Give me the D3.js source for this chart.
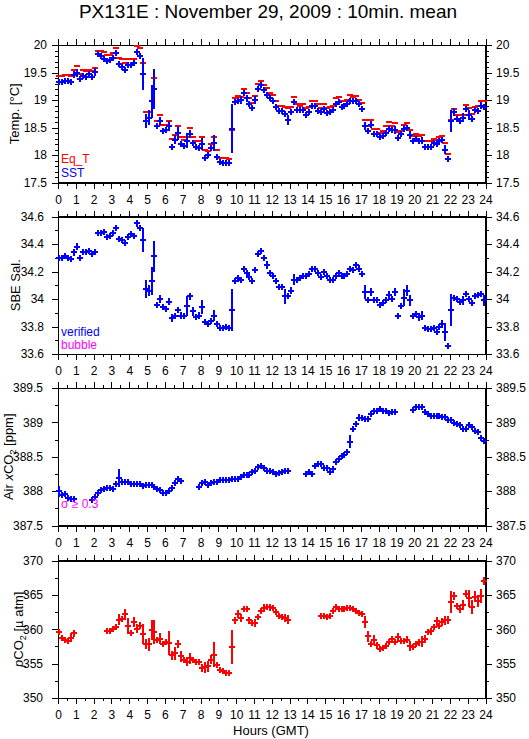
<!DOCTYPE html>
<html>
<head>
<meta charset="utf-8">
<script src="https://cdn.jsdelivr.net/npm/d3@7"></script>
<style>
body { margin: 0; background: #fff; }
svg text { font-family: "Liberation Sans", Arial, Helvetica, sans-serif; }
</style>
</head>
<body>
<svg width="529" height="739"></svg>
<script>
// 10 minute means, bin i covers [i*10, (i+1)*10) minutes after 0 GMT
var binMinutes = 10;

var eqT = [19.44,19.44,19.46,19.46,19.44,
  19.55,19.62,19.47,19.55,19.52,19.55,19.52,19.58,
  19.89,19.89,19.87,19.82,19.82,19.86,19.95,19.77,19.75,19.67,19.75,19.75,19.75,19.98,19.94,19.68,
  18.78,18.78,18.98,19.40,18.62,18.72,18.55,18.55,18.62,18.30,18.37,18.52,18.32,18.27,18.33,18.50,18.33,18.25,18.25,18.32,18.10,18.08,18.20,18.33,18.10,17.95,17.95,17.94,17.93,18.45,
  19.04,19.08,19.06,19.20,19.12,19.03,18.95,19.07,19.30,19.35,19.28,19.22,19.12,
  19.09,18.98,18.90,18.90,18.88,18.85,18.87,19.05,18.92,18.90,18.92,18.85,18.88,18.98,18.98,18.92,18.85,18.92,18.85,18.88,18.90,19.03,19.05,18.98,18.98,19.00,19.09,19.06,19.07,19.00,18.94,
  18.63,18.52,18.63,18.47,18.47,18.40,18.44,18.52,18.60,18.53,18.58,18.42,18.43,18.55,18.58,18.45,18.35,18.38,18.35,18.37,18.25,18.25,18.25,18.30,18.27,18.32,18.35,18.22,18.02,
  18.63,18.84,18.73,18.72,18.73,18.91,18.85,18.74,18.88,18.90,18.98,18.98];

var sst = [19.33,19.33,19.34,19.35,19.32,
  19.46,19.49,19.38,19.44,19.42,19.47,19.41,19.51,
  19.84,19.80,19.75,19.71,19.72,19.76,19.86,19.66,19.60,19.55,19.63,19.64,19.67,19.88,19.80,19.47,
  18.62,18.68,18.98,19.20,18.52,18.62,18.44,18.45,18.52,18.15,18.28,18.40,18.20,18.17,18.26,18.38,18.22,18.14,18.13,18.20,17.95,18.00,18.12,18.22,17.97,17.87,17.85,17.85,17.85,18.48,
  18.97,18.99,19.00,19.12,19.03,18.93,18.86,19.00,19.20,19.27,19.18,19.10,19.03,
  18.98,18.88,18.80,18.80,18.75,18.63,18.78,18.97,18.82,18.81,18.81,18.73,18.78,18.90,18.89,18.80,18.78,18.83,18.77,18.79,18.81,18.92,18.96,18.88,18.90,18.93,18.99,18.98,18.98,18.92,18.84,
  18.53,18.43,18.55,18.38,18.38,18.32,18.35,18.40,18.47,18.45,18.46,18.31,18.39,18.48,18.50,18.36,18.26,18.30,18.26,18.26,18.15,18.15,18.15,18.22,18.20,18.25,18.28,18.10,17.93,
  18.62,18.78,18.66,18.62,18.68,18.83,18.73,18.65,18.82,18.80,18.90,18.87];

// [bin, standard deviation] where the error bar is visible
var sstSd = [[5,0.06],[6,0.07],[12,0.07],[25,0.06],[28,0.29],[29,0.12],[30,0.13],[31,0.3],[32,0.37],
  [34,0.08],[37,0.09],[39,0.08],[40,0.12],[43,0.14],[44,0.07],[48,0.11],[52,0.15],[58,0.45],
  [60,0.05],[61,0.08],[63,0.06],[66,0.07],[76,0.05],[77,0.09],[80,0.06],[87,0.06],[102,0.06],
  [103,0.07],[105,0.06],[110,0.05],[111,0.06],[113,0.07],[116,0.07],[118,0.07],[122,0.06],
  [130,0.08],[131,0.04],[132,0.2],[133,0.07],[136,0.08],[138,0.09],[142,0.07]];

var sal = [34.30,34.30,34.31,34.30,34.29,
  34.34,34.38,34.30,34.34,34.34,34.35,34.33,34.34,
  34.48,34.48,34.49,34.45,34.46,34.48,34.52,34.44,34.43,34.41,34.45,34.47,34.46,34.55,34.52,34.43,
  34.07,34.06,34.13,34.31,33.96,34.00,33.94,33.93,33.98,33.86,33.88,33.92,33.88,33.88,33.95,34.02,33.91,33.87,33.88,33.94,33.83,33.82,33.84,33.88,33.82,33.79,33.79,33.80,33.79,33.92,
  34.13,34.15,34.14,34.22,34.19,34.16,34.13,34.21,34.33,34.35,34.30,34.25,34.19,
  34.17,34.13,34.09,34.09,34.02,34.02,34.06,34.14,34.14,34.15,34.17,34.17,34.18,34.22,34.22,34.19,34.16,34.20,34.17,34.14,34.14,34.17,34.19,34.17,34.17,34.18,34.22,34.21,34.25,34.22,34.18,
  34.05,33.99,34.05,33.99,33.99,33.96,33.97,33.99,34.03,34.00,34.05,33.88,33.95,34.01,34.06,33.99,33.88,33.89,33.87,33.88,33.79,33.78,33.78,33.79,33.76,33.80,33.82,33.76,33.66,
  33.92,34.01,34.00,33.98,33.99,34.04,34.00,33.97,34.02,34.03,34.04,33.99];

var salSd = [[5,0.025],[6,0.025],[12,0.02],[13,0.025],[15,0.02],[20,0.02],[26,0.025],[28,0.085],
  [29,0.065],[30,0.04],[31,0.1],[32,0.11],[34,0.03],[37,0.025],[38,0.03],[41,0.025],[43,0.07],
  [44,0.025],[45,0.03],[47,0.025],[48,0.05],[52,0.04],[58,0.15],[60,0.025],[61,0.02],[66,0.02],
  [68,0.02],[70,0.03],[71,0.02],[76,0.055],[78,0.025],[79,0.04],[87,0.02],[98,0.02],[101,0.025],
  [103,0.05],[105,0.03],[111,0.03],[113,0.03],[116,0.06],[117,0.04],[118,0.04],[121,0.03],
  [122,0.03],[129,0.03],[130,0.065],[132,0.115],[135,0.02],[136,0.03],[138,0.02],[140,0.02],[143,0.04]];

var airCo2 = [388.00,387.95,387.96,387.90,387.89,387.89,
  null,null,null,null,null,
  387.87,387.92,387.98,388.02,388.03,388.04,388.04,388.03,388.10,388.19,388.13,388.13,388.13,388.11,388.10,388.11,388.10,388.08,388.09,388.09,388.09,388.06,388.03,388.01,387.98,387.98,388.00,388.05,388.12,388.17,388.15,
  null,null,null,null,null,
  388.06,388.12,388.13,388.09,388.12,388.13,388.14,388.16,388.16,388.16,388.16,388.17,388.17,388.17,388.20,388.23,388.24,388.24,388.28,388.30,388.35,388.36,388.34,388.29,388.29,388.28,388.25,388.27,388.28,388.30,388.30,
  null,null,null,null,null,
  388.25,388.28,388.25,388.37,388.39,388.39,388.34,388.34,388.28,388.32,388.42,388.47,388.51,388.52,388.57,388.72,388.91,388.97,389.07,389.06,389.05,389.05,389.12,389.16,389.17,389.19,389.17,389.16,389.14,389.15,389.15,
  null,null,null,null,null,
  389.18,389.22,389.22,389.22,389.15,389.12,389.10,389.09,389.10,389.10,389.08,389.08,389.03,389.03,388.99,388.98,388.96,388.90,388.90,388.96,388.93,388.87,388.86,388.78,388.73];

var airSd = [[0,0.08],[1,0.04],[2,0.03],[13,0.03],[18,0.02],[20,0.13],[29,0.03],[30,0.03],[38,0.03],
  [40,0.03],[47,0.05],[50,0.03],[65,0.02],[68,0.02],[71,0.03],[73,0.03],[84,0.03],[90,0.03],
  [91,0.03],[92,0.05],[98,0.09],[100,0.04],[101,0.05],[105,0.03],[119,0.03],[128,0.03],
  [133,0.04],[134,0.04],[138,0.04],[142,0.04],[143,0.03]];

var pco2 = [359.6,358.7,358.5,358.3,358.8,359.4,
  null,null,null,null,null,null,null,null,null,null,
  359.7,359.8,360.1,360.3,361.4,361.5,362.2,360.5,359.4,361.1,360.1,360.5,359.3,357.9,357.8,359.9,359.6,358.4,358.6,357.9,358.2,358.0,356.2,356.5,357.9,356.1,355.6,355.3,355.8,355.6,355.3,355.2,354.4,354.5,354.6,355.6,356.3,354.8,354.1,354.0,353.6,353.6,357.4,
  361.3,362.2,361.6,362.9,362.9,361.3,360.9,360.9,361.8,362.6,363.1,363.2,363.2,363.1,362.5,362.0,361.8,361.6,361.4,
  null,null,null,null,null,null,null,null,null,null,
  362.0,361.9,361.8,362.0,362.6,363.2,363.0,363.0,363.0,363.1,363.1,363.0,362.7,362.4,362.2,
  361.1,359.0,357.9,358.5,357.7,357.2,357.3,357.6,358.1,358.6,358.1,358.9,358.3,358.3,358.5,357.6,357.4,357.9,358.1,358.2,358.6,359.6,359.7,360.3,361.2,360.5,361.1,361.3,361.3,
  364.0,364.8,363.4,363.0,363.5,365.2,364.5,363.2,364.7,364.1,364.8,367.0];

var pco2Sd = [[0,0.4],[4,0.6],[5,0.5],[20,0.8],[21,0.5],[22,0.8],[23,1.2],[25,0.7],[26,0.6],[27,0.5],
  [28,1.5],[29,0.7],[30,1.0],[31,1.5],[32,1.7],[33,0.4],[34,0.8],[36,0.4],[37,1.7],[38,0.6],
  [39,0.9],[40,0.6],[41,0.8],[43,0.6],[44,0.8],[48,0.6],[49,0.8],[50,0.8],[51,0.6],[52,1.8],
  [58,2.5],[59,0.5],[60,0.6],[61,0.6],[62,0.3],[63,0.4],[64,0.5],[66,0.6],[67,0.4],[68,0.4],
  [69,0.6],[70,0.3],[71,0.5],[72,0.4],[76,0.6],[77,0.7],[90,0.4],[93,0.4],[103,0.9],[104,0.8],
  [106,0.6],[107,0.5],[111,0.4],[112,0.4],[114,0.6],[117,0.5],[118,0.7],[121,0.5],[122,0.8],
  [123,0.6],[125,0.5],[127,0.6],[128,0.4],[129,0.6],[130,0.7],[131,0.6],[132,1.6],[133,0.6],
  [135,0.6],[136,0.7],[137,0.5],[138,1.2],[139,1.0],[140,0.8],[141,0.9],[142,1.0],[143,0.6]];

var hourTicks = d3.range(0, 25);
var halfHourTicks = d3.range(0, 24.01, 0.5);

var svg = d3.select("svg");
var x = d3.scaleLinear().domain([0, 24]).range([58, 485.5]);

var panels = [
  {top: 45, domain: [17.5, 20], major: 0.5, minor: 0.1, titleX: 18.5, pad: 5},
  {top: 216.5, domain: [33.6, 34.6], major: 0.2, minor: 0.1, titleX: 19.5, pad: 8},
  {top: 388, domain: [387.5, 389.5], major: 0.5, minor: 0.25, titleX: 12.5, pad: 9},
  {top: 560.5, domain: [350, 370], major: 5, minor: 2.5, titleX: 22.5, pad: 9}
];
var ph = 137.5;

function steps(lo, hi, st) {
  var n = Math.round((hi - lo) / st);
  return d3.range(n + 1).map(function (k) { return +(lo + k * st).toFixed(4); });
}
var fmt = function (d) { return String(+d.toFixed(2)); };

function styleAxis(g, size) {
  g.attr("shape-rendering", "crispEdges");
  g.select(".domain").attr("stroke", "#000");
  g.selectAll("line").attr("stroke", "#000");
  g.selectAll("text").attr("font-size", size).attr("fill", "#000")
    .attr("font-family", '"Liberation Sans", Arial, sans-serif');
}

function drawPanel(p) {
  var y = d3.scaleLinear().domain(p.domain).range([p.top + ph, p.top]);
  var g = svg.append("g");
  var bottom = p.top + ph;

  g.append("rect")
    .attr("x", x(0)).attr("y", p.top)
    .attr("width", x(24) - x(0)).attr("height", ph)
    .attr("fill", "none").attr("stroke", "#000")
    .attr("shape-rendering", "crispEdges");

  // hour axes, top and bottom
  g.append("g").attr("transform", "translate(0," + p.top + ")")
    .call(d3.axisTop(x).tickValues(halfHourTicks).tickSize(3).tickSizeOuter(0).tickFormat(""))
    .call(styleAxis, 12);
  g.append("g").attr("transform", "translate(0," + p.top + ")")
    .call(d3.axisTop(x).tickValues(hourTicks).tickSize(6).tickSizeOuter(0).tickFormat(""))
    .call(styleAxis, 12);
  g.append("g").attr("transform", "translate(0," + bottom + ")")
    .call(d3.axisBottom(x).tickValues(halfHourTicks).tickSize(3).tickSizeOuter(0).tickFormat(""))
    .call(styleAxis, 12);
  g.append("g").attr("transform", "translate(0," + bottom + ")")
    .call(d3.axisBottom(x).tickValues(hourTicks).tickSize(6).tickSizeOuter(0).tickPadding(6.5).tickFormat(d3.format("d")))
    .call(styleAxis, 12);

  // value axes, left and right
  var majors = steps(p.domain[0], p.domain[1], p.major);
  var minors = steps(p.domain[0], p.domain[1], p.minor);
  g.append("g").attr("transform", "translate(" + x(0) + ",0)")
    .call(d3.axisLeft(y).tickValues(minors).tickSize(3).tickSizeOuter(0).tickFormat(""))
    .call(styleAxis, 12);
  g.append("g").attr("transform", "translate(" + x(0) + ",0)")
    .call(d3.axisLeft(y).tickValues(majors).tickSize(6).tickSizeOuter(0).tickPadding(p.pad).tickFormat(fmt))
    .call(styleAxis, 12);
  g.append("g").attr("transform", "translate(" + x(24) + ",0)")
    .call(d3.axisRight(y).tickValues(minors).tickSize(3).tickSizeOuter(0).tickFormat(""))
    .call(styleAxis, 12);
  g.append("g").attr("transform", "translate(" + x(24) + ",0)")
    .call(d3.axisRight(y).tickValues(majors).tickSize(6).tickSizeOuter(0).tickPadding(4.5).tickFormat(fmt))
    .call(styleAxis, 12);

  p.y = y;
  p.g = g;
  return p;
}

function series(vals, sd) {
  var err = new Map(sd || []);
  return vals.map(function (v, i) {
    return {t: (i + 0.5) * binMinutes / 60, v: v, e: err.get(i) || 0};
  }).filter(function (d) { return d.v != null; });
}

function drawMarks(p, data, color, cross) {
  var y = p.y;
  p.g.append("g").selectAll("path")
    .data(data)
    .enter()
    .append("path")
    .attr("fill", "none")
    .attr("stroke", color)
    .attr("stroke-width", 2)
    .attr("shape-rendering", "crispEdges")
    .attr("d", function (d) {
      var cx = x(d.t), cy = y(d.v);
      var s = "M" + (cx - 3) + "," + cy + "H" + (cx + 3);
      if (cross) s += "M" + cx + "," + (cy - 3) + "V" + (cy + 3);
      if (d.e) s += "M" + cx + "," + y(d.v - d.e) + "V" + y(d.v + d.e);
      return s;
    });
}

panels.forEach(drawPanel);

drawMarks(panels[0], series(eqT), "#ff0000", false);
drawMarks(panels[0], series(sst, sstSd), "#0000ff", true);
drawMarks(panels[1], series(sal, salSd), "#0000ff", true);
drawMarks(panels[2], series(airCo2, airSd), "#0000ff", true);
drawMarks(panels[3], series(pco2, pco2Sd), "#ff0000", true);

// title
svg.append("text")
  .attr("x", 268).attr("y", 17.5)
  .attr("text-anchor", "middle")
  .attr("font-size", 19)
  .text("PX131E : November 29, 2009 : 10min. mean");

// y axis titles
function yTitle(p, parts) {
  var cy = p.top + ph / 2;
  var t = svg.append("text")
    .attr("transform", "translate(" + p.titleX + "," + cy + ") rotate(-90)")
    .attr("text-anchor", "middle")
    .attr("font-size", 13);
  parts.forEach(function (q) {
    var s = t.append("tspan").text(q.s);
    if (q.it) s.attr("font-style", "italic");
    if (q.sub) s.attr("font-size", 9).attr("dy", 3);
    if (q.after) s.attr("dy", -3);
  });
}
yTitle(panels[0], [{s: "Temp. [°C]"}]);
yTitle(panels[1], [{s: "SBE Sal."}]);
yTitle(panels[2], [{s: "Air "}, {s: "x", it: true}, {s: "CO"}, {s: "2", sub: true}, {s: " [ppm]", after: true}]);
yTitle(panels[3], [{s: "p", it: true}, {s: "CO"}, {s: "2", sub: true}, {s: " [µ atm]", after: true}]);

// legends
function note(x0, y0, color, txt, size) {
  svg.append("text").attr("x", x0).attr("y", y0)
    .attr("fill", color).attr("font-size", size || 12).text(txt);
}
note(61, 163, "#ff0000", "Eq_T");
note(61, 177, "#0000ff", "SST");
note(61, 336, "#0000ff", "verified");
note(61, 349, "#ff00ff", "bubble");
note(61, 508, "#ff00ff", "σ ≥ 0.3", 12);

svg.append("text")
  .attr("x", 271).attr("y", 735)
  .attr("text-anchor", "middle")
  .attr("font-size", 13)
  .text("Hours (GMT)");
</script>
</body>
</html>
